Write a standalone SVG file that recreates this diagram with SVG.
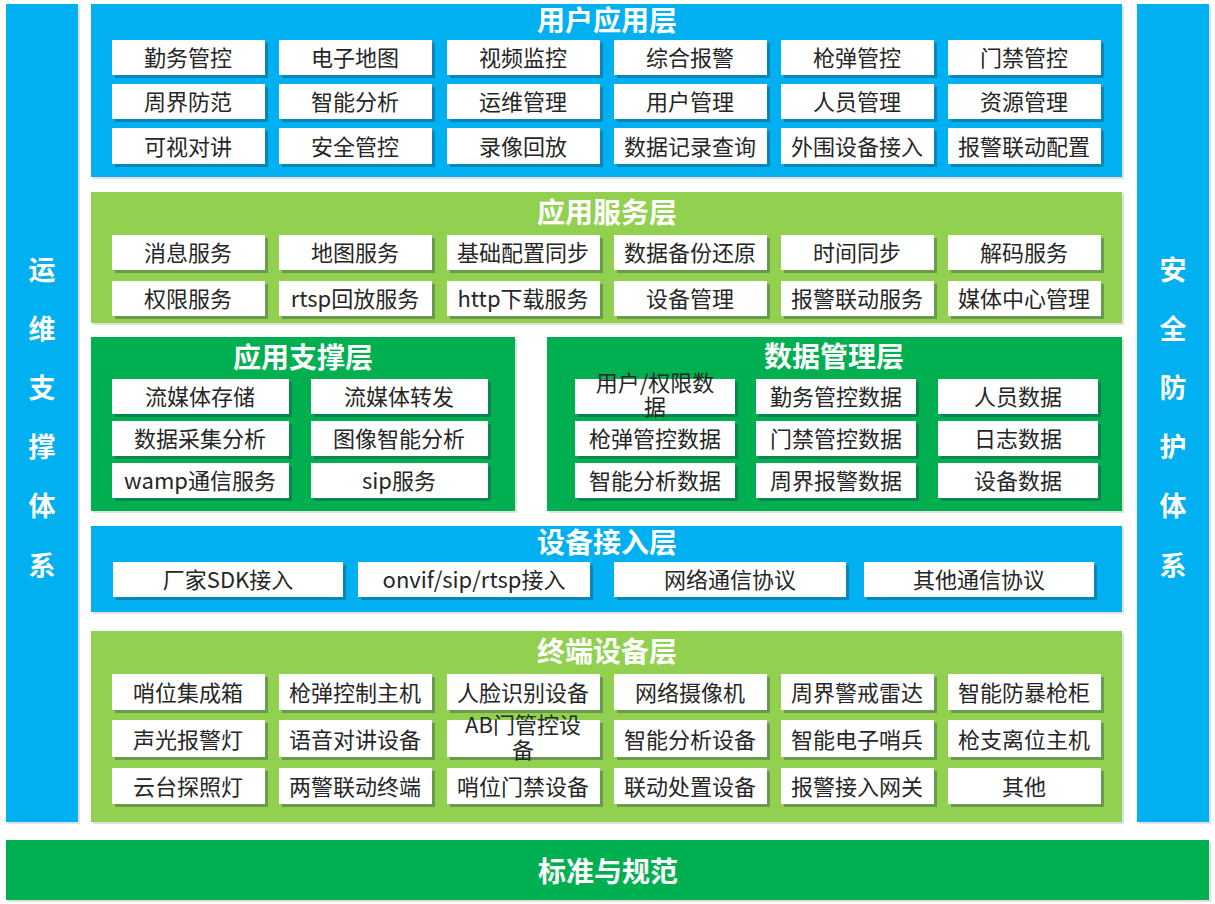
<svg xmlns="http://www.w3.org/2000/svg" width="1215" height="904" viewBox="0 0 1215 904">
<style>
.blue{fill:#00B0F0}
.lg{fill:#92D050}
.dg{fill:#00B050}
.psh{fill:#000;opacity:.12}
.bsh{fill:#1a3a4a;opacity:.35}
.box{fill:#fff}
.t{font-family:"Microsoft YaHei","Noto Sans CJK SC","Noto Sans",sans-serif;font-size:22px;fill:#262626;text-anchor:middle;dominant-baseline:central}
.h{font-family:"Microsoft YaHei","Noto Sans CJK SC","Noto Sans",sans-serif;font-size:28px;font-weight:bold;fill:#fff;text-anchor:middle;dominant-baseline:central}
.v{font-family:"Microsoft YaHei","Noto Sans CJK SC","Noto Sans",sans-serif;font-size:27px;font-weight:bold;fill:#fff;text-anchor:middle;dominant-baseline:central}
</style>
<rect width="1215" height="904" fill="#fff"/>

<g id="ops-side">
<rect class="psh" x="8" y="6" width="72" height="818"/>
<rect class="blue" x="6" y="4" width="72" height="818"/>
<text class="v" x="42" y="268">运</text><text class="v" x="42" y="327">维</text><text class="v" x="42" y="386">支</text><text class="v" x="42" y="445">撑</text><text class="v" x="42" y="504">体</text><text class="v" x="42" y="564">系</text>
</g>
<g id="sec-side">
<rect class="psh" x="1139" y="6" width="72" height="818"/>
<rect class="blue" x="1137" y="4" width="72" height="818"/>
<text class="v" x="1173" y="268">安</text><text class="v" x="1173" y="327">全</text><text class="v" x="1173" y="386">防</text><text class="v" x="1173" y="445">护</text><text class="v" x="1173" y="504">体</text><text class="v" x="1173" y="564">系</text>
</g>

<g id="user-app-layer">
<rect class="psh" x="93" y="6" width="1031" height="173"/>
<rect class="blue" x="91" y="4" width="1031" height="173"/>
<text class="h" x="607" y="19">用户应用层</text>
<g>
<rect class="bsh" x="115" y="43" width="153" height="35"/><rect class="box" x="112" y="40" width="153" height="35"/><text class="t" x="188" y="56">勤务管控</text>
<rect class="bsh" x="282" y="43" width="153" height="35"/><rect class="box" x="279" y="40" width="153" height="35"/><text class="t" x="355" y="56">电子地图</text>
<rect class="bsh" x="450" y="43" width="153" height="35"/><rect class="box" x="447" y="40" width="153" height="35"/><text class="t" x="523" y="56">视频监控</text>
<rect class="bsh" x="617" y="43" width="153" height="35"/><rect class="box" x="614" y="40" width="153" height="35"/><text class="t" x="690" y="56">综合报警</text>
<rect class="bsh" x="784" y="43" width="153" height="35"/><rect class="box" x="781" y="40" width="153" height="35"/><text class="t" x="857" y="56">枪弹管控</text>
<rect class="bsh" x="951" y="43" width="153" height="35"/><rect class="box" x="948" y="40" width="153" height="35"/><text class="t" x="1024" y="56">门禁管控</text>

<rect class="bsh" x="115" y="87" width="153" height="35"/><rect class="box" x="112" y="84" width="153" height="35"/><text class="t" x="188" y="100">周界防范</text>
<rect class="bsh" x="282" y="87" width="153" height="35"/><rect class="box" x="279" y="84" width="153" height="35"/><text class="t" x="355" y="100">智能分析</text>
<rect class="bsh" x="450" y="87" width="153" height="35"/><rect class="box" x="447" y="84" width="153" height="35"/><text class="t" x="523" y="100">运维管理</text>
<rect class="bsh" x="617" y="87" width="153" height="35"/><rect class="box" x="614" y="84" width="153" height="35"/><text class="t" x="690" y="100">用户管理</text>
<rect class="bsh" x="784" y="87" width="153" height="35"/><rect class="box" x="781" y="84" width="153" height="35"/><text class="t" x="857" y="100">人员管理</text>
<rect class="bsh" x="951" y="87" width="153" height="35"/><rect class="box" x="948" y="84" width="153" height="35"/><text class="t" x="1024" y="100">资源管理</text>

<rect class="bsh" x="115" y="131" width="153" height="36"/><rect class="box" x="112" y="128" width="153" height="36"/><text class="t" x="188" y="145">可视对讲</text>
<rect class="bsh" x="282" y="131" width="153" height="36"/><rect class="box" x="279" y="128" width="153" height="36"/><text class="t" x="355" y="145">安全管控</text>
<rect class="bsh" x="450" y="131" width="153" height="36"/><rect class="box" x="447" y="128" width="153" height="36"/><text class="t" x="523" y="145">录像回放</text>
<rect class="bsh" x="617" y="131" width="153" height="36"/><rect class="box" x="614" y="128" width="153" height="36"/><text class="t" x="690" y="145">数据记录查询</text>
<rect class="bsh" x="784" y="131" width="153" height="36"/><rect class="box" x="781" y="128" width="153" height="36"/><text class="t" x="857" y="145">外围设备接入</text>
<rect class="bsh" x="951" y="131" width="153" height="36"/><rect class="box" x="948" y="128" width="153" height="36"/><text class="t" x="1024" y="145">报警联动配置</text>
</g>
</g>

<g id="app-service-layer">
<rect class="psh" x="93" y="194" width="1031" height="131"/>
<rect class="lg" x="91" y="192" width="1031" height="131"/>
<text class="h" x="607" y="211">应用服务层</text>
<rect class="bsh" x="115" y="238" width="153" height="35"/><rect class="box" x="112" y="235" width="153" height="35"/><text class="t" x="188" y="251">消息服务</text>
<rect class="bsh" x="282" y="238" width="153" height="35"/><rect class="box" x="279" y="235" width="153" height="35"/><text class="t" x="355" y="251">地图服务</text>
<rect class="bsh" x="450" y="238" width="153" height="35"/><rect class="box" x="447" y="235" width="153" height="35"/><text class="t" x="523" y="251">基础配置同步</text>
<rect class="bsh" x="617" y="238" width="153" height="35"/><rect class="box" x="614" y="235" width="153" height="35"/><text class="t" x="690" y="251">数据备份还原</text>
<rect class="bsh" x="784" y="238" width="153" height="35"/><rect class="box" x="781" y="235" width="153" height="35"/><text class="t" x="857" y="251">时间同步</text>
<rect class="bsh" x="951" y="238" width="153" height="35"/><rect class="box" x="948" y="235" width="153" height="35"/><text class="t" x="1024" y="251">解码服务</text>

<rect class="bsh" x="115" y="284" width="153" height="35"/><rect class="box" x="112" y="281" width="153" height="35"/><text class="t" x="188" y="297">权限服务</text>
<rect class="bsh" x="282" y="284" width="153" height="35"/><rect class="box" x="279" y="281" width="153" height="35"/><text class="t" x="355" y="297">rtsp回放服务</text>
<rect class="bsh" x="450" y="284" width="153" height="35"/><rect class="box" x="447" y="281" width="153" height="35"/><text class="t" x="523" y="297">http下载服务</text>
<rect class="bsh" x="617" y="284" width="153" height="35"/><rect class="box" x="614" y="281" width="153" height="35"/><text class="t" x="690" y="297">设备管理</text>
<rect class="bsh" x="784" y="284" width="153" height="35"/><rect class="box" x="781" y="281" width="153" height="35"/><text class="t" x="857" y="297">报警联动服务</text>
<rect class="bsh" x="951" y="284" width="153" height="35"/><rect class="box" x="948" y="281" width="153" height="35"/><text class="t" x="1024" y="297">媒体中心管理</text>
</g>

<g id="app-support-layer">
<rect class="psh" x="93" y="339" width="424" height="174"/>
<rect class="dg" x="91" y="337" width="424" height="174"/>
<text class="h" x="303" y="356">应用支撑层</text>
<rect class="bsh" x="115" y="382" width="177" height="35"/><rect class="box" x="112" y="379" width="177" height="35"/><text class="t" x="200" y="395">流媒体存储</text>
<rect class="bsh" x="314" y="382" width="177" height="35"/><rect class="box" x="311" y="379" width="177" height="35"/><text class="t" x="399" y="395">流媒体转发</text>
<rect class="bsh" x="115" y="424" width="177" height="35"/><rect class="box" x="112" y="421" width="177" height="35"/><text class="t" x="200" y="437">数据采集分析</text>
<rect class="bsh" x="314" y="424" width="177" height="35"/><rect class="box" x="311" y="421" width="177" height="35"/><text class="t" x="399" y="437">图像智能分析</text>
<rect class="bsh" x="115" y="466" width="177" height="35"/><rect class="box" x="112" y="463" width="177" height="35"/><text class="t" x="200" y="479">wamp通信服务</text>
<rect class="bsh" x="314" y="466" width="177" height="35"/><rect class="box" x="311" y="463" width="177" height="35"/><text class="t" x="399" y="479">sip服务</text>
</g>

<g id="data-mgmt-layer">
<rect class="psh" x="549" y="339" width="575" height="174"/>
<rect class="dg" x="547" y="337" width="575" height="174"/>
<text class="h" x="834" y="355">数据管理层</text>
<rect class="bsh" x="578" y="382" width="160" height="35"/><rect class="box" x="575" y="379" width="160" height="35"/><text class="t" x="655" y="381">用户/权限数</text><text class="t" x="655" y="405">据</text>
<rect class="bsh" x="759" y="382" width="160" height="35"/><rect class="box" x="756" y="379" width="160" height="35"/><text class="t" x="836" y="395">勤务管控数据</text>
<rect class="bsh" x="941" y="382" width="160" height="35"/><rect class="box" x="938" y="379" width="160" height="35"/><text class="t" x="1018" y="395">人员数据</text>
<rect class="bsh" x="578" y="424" width="160" height="35"/><rect class="box" x="575" y="421" width="160" height="35"/><text class="t" x="655" y="437">枪弹管控数据</text>
<rect class="bsh" x="759" y="424" width="160" height="35"/><rect class="box" x="756" y="421" width="160" height="35"/><text class="t" x="836" y="437">门禁管控数据</text>
<rect class="bsh" x="941" y="424" width="160" height="35"/><rect class="box" x="938" y="421" width="160" height="35"/><text class="t" x="1018" y="437">日志数据</text>
<rect class="bsh" x="578" y="466" width="160" height="35"/><rect class="box" x="575" y="463" width="160" height="35"/><text class="t" x="655" y="479">智能分析数据</text>
<rect class="bsh" x="759" y="466" width="160" height="35"/><rect class="box" x="756" y="463" width="160" height="35"/><text class="t" x="836" y="479">周界报警数据</text>
<rect class="bsh" x="941" y="466" width="160" height="35"/><rect class="box" x="938" y="463" width="160" height="35"/><text class="t" x="1018" y="479">设备数据</text>
</g>

<g id="device-access-layer">
<rect class="psh" x="93" y="528" width="1031" height="86"/>
<rect class="blue" x="91" y="526" width="1031" height="86"/>
<text class="h" x="607" y="541">设备接入层</text>
<rect class="bsh" x="116" y="565" width="230" height="35"/><rect class="box" x="113" y="562" width="230" height="35"/><text class="t" x="228" y="578">厂家SDK接入</text>
<rect class="bsh" x="361" y="565" width="232" height="35"/><rect class="box" x="358" y="562" width="232" height="35"/><text class="t" x="474" y="578">onvif/sip/rtsp接入</text>
<rect class="bsh" x="617" y="565" width="232" height="35"/><rect class="box" x="614" y="562" width="232" height="35"/><text class="t" x="730" y="578">网络通信协议</text>
<rect class="bsh" x="867" y="565" width="230" height="35"/><rect class="box" x="864" y="562" width="230" height="35"/><text class="t" x="979" y="578">其他通信协议</text>
</g>

<g id="terminal-layer">
<rect class="psh" x="93" y="633" width="1031" height="191"/>
<rect class="lg" x="91" y="631" width="1031" height="191"/>
<text class="h" x="607" y="650">终端设备层</text>
<rect class="bsh" x="115" y="677" width="153" height="36"/><rect class="box" x="112" y="674" width="153" height="36"/><text class="t" x="188" y="691">哨位集成箱</text>
<rect class="bsh" x="282" y="677" width="153" height="36"/><rect class="box" x="279" y="674" width="153" height="36"/><text class="t" x="355" y="691">枪弹控制主机</text>
<rect class="bsh" x="450" y="677" width="153" height="36"/><rect class="box" x="447" y="674" width="153" height="36"/><text class="t" x="523" y="691">人脸识别设备</text>
<rect class="bsh" x="617" y="677" width="153" height="36"/><rect class="box" x="614" y="674" width="153" height="36"/><text class="t" x="690" y="691">网络摄像机</text>
<rect class="bsh" x="784" y="677" width="153" height="36"/><rect class="box" x="781" y="674" width="153" height="36"/><text class="t" x="857" y="691">周界警戒雷达</text>
<rect class="bsh" x="951" y="677" width="153" height="36"/><rect class="box" x="948" y="674" width="153" height="36"/><text class="t" x="1024" y="691">智能防暴枪柜</text>

<rect class="bsh" x="115" y="723" width="153" height="37"/><rect class="box" x="112" y="720" width="153" height="37"/><text class="t" x="188" y="738">声光报警灯</text>
<rect class="bsh" x="282" y="723" width="153" height="37"/><rect class="box" x="279" y="720" width="153" height="37"/><text class="t" x="355" y="738">语音对讲设备</text>
<rect class="bsh" x="450" y="723" width="153" height="37"/><rect class="box" x="447" y="720" width="153" height="37"/><text class="t" x="523" y="723">AB门管控设</text><text class="t" x="523" y="748">备</text>
<rect class="bsh" x="617" y="723" width="153" height="37"/><rect class="box" x="614" y="720" width="153" height="37"/><text class="t" x="690" y="738">智能分析设备</text>
<rect class="bsh" x="784" y="723" width="153" height="37"/><rect class="box" x="781" y="720" width="153" height="37"/><text class="t" x="857" y="738">智能电子哨兵</text>
<rect class="bsh" x="951" y="723" width="153" height="37"/><rect class="box" x="948" y="720" width="153" height="37"/><text class="t" x="1024" y="738">枪支离位主机</text>

<rect class="bsh" x="115" y="771" width="153" height="36"/><rect class="box" x="112" y="768" width="153" height="36"/><text class="t" x="188" y="785">云台探照灯</text>
<rect class="bsh" x="282" y="771" width="153" height="36"/><rect class="box" x="279" y="768" width="153" height="36"/><text class="t" x="355" y="785">两警联动终端</text>
<rect class="bsh" x="450" y="771" width="153" height="36"/><rect class="box" x="447" y="768" width="153" height="36"/><text class="t" x="523" y="785">哨位门禁设备</text>
<rect class="bsh" x="617" y="771" width="153" height="36"/><rect class="box" x="614" y="768" width="153" height="36"/><text class="t" x="690" y="785">联动处置设备</text>
<rect class="bsh" x="784" y="771" width="153" height="36"/><rect class="box" x="781" y="768" width="153" height="36"/><text class="t" x="857" y="785">报警接入网关</text>
<rect class="bsh" x="951" y="771" width="153" height="36"/><rect class="box" x="948" y="768" width="153" height="36"/><text class="t" x="1024" y="785">其他</text>
</g>

<g id="standards">
<rect class="psh" x="8" y="842" width="1203" height="60"/>
<rect class="dg" x="6" y="840" width="1203" height="60"/>
<text class="h" x="608" y="870">标准与规范</text>
</g>
<g id="connectors"/>
</svg>
